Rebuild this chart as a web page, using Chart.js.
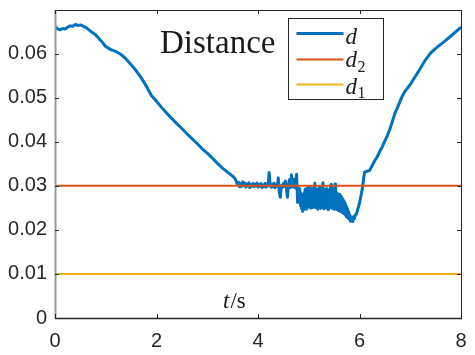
<!DOCTYPE html>
<html><head><meta charset="utf-8">
<script src="https://cdn.jsdelivr.net/npm/chart.js@4"></script>
<style>html,body{margin:0;padding:0;background:#fff;}canvas{display:block;}</style>
</head><body>
<canvas id="c" width="475" height="355"></canvas>
<script>
const tValues = [
  0,0.05,0.1,0.15,0.2,0.25,0.3,0.35,0.4,0.45,0.5,0.6,0.7,0.8,0.9,
  1.0,1.1,1.2,1.3,1.4,1.5,1.6,1.7,1.8,1.9,2.0,2.1,2.2,2.3,2.4,
  2.5,2.6,2.7,2.8,2.9,3.0,3.1,3.2,3.3,3.4,3.5,3.55,
  3.60,3.62,3.64,3.66,3.68,3.70,3.72,3.74,3.76,3.78,
  3.80,3.82,3.84,3.86,3.88,3.90,3.92,3.94,3.96,3.98,
  4.00,4.02,4.04,4.06,4.08,4.10,4.12,4.14,4.16,4.18,
  4.20,4.22,4.24,4.26,4.28,4.30,4.32,4.34,4.36,4.38,
  4.40,4.42,4.44,4.46,4.48,4.50,4.52,4.54,4.56,4.58,
  4.60,4.62,4.64,4.66,4.68,4.70,4.72,4.74,4.76,
  4.78,4.79,4.80,4.81,4.82,4.83,4.84,4.85,4.86,4.87,4.88,4.89,
  4.90,4.91,4.92,4.93,4.94,4.95,4.96,4.97,4.98,4.99,
  5.00,5.01,5.02,5.03,5.04,5.05,5.06,5.07,5.08,5.09,
  5.10,5.11,5.12,5.13,5.14,5.15,5.16,5.17,5.18,5.19,
  5.20,5.21,5.22,5.23,5.24,5.25,5.26,5.27,5.28,5.29,
  5.30,5.31,5.32,5.33,5.34,5.35,5.36,5.37,5.38,5.39,
  5.40,5.41,5.42,5.43,5.44,5.45,5.46,5.47,5.48,5.49,
  5.50,5.51,5.52,5.53,5.54,5.55,5.56,5.57,5.58,5.59,
  5.60,5.61,5.62,5.63,5.64,5.65,5.66,5.67,5.68,5.69,
  5.70,5.71,5.72,5.73,5.74,5.75,5.76,5.77,5.78,5.79,
  5.80,5.81,5.82,5.83,5.84,5.85,5.86,5.87,5.88,5.89,5.90,
  5.92,5.94,5.96,5.98,6.00,6.02,6.04,6.06,6.08,6.10,
  6.15,6.20,6.25,6.30,6.35,6.40,6.45,6.50,6.55,6.60,6.65,6.70,6.75,6.80,6.85,6.90,
  7.0,7.1,7.2,7.3,7.4,7.5,7.6,7.7,7.8,7.9,8.0
];
const dValues = [
  0.0662,0.0656,0.0654,0.0657,0.0656,0.0660,0.0663,0.0662,0.0666,0.0664,0.0665,0.0660,0.0651,0.0643,0.0630,
  0.0616,0.0609,0.0605,0.0598,0.0588,0.0575,0.0561,0.0545,0.0526,0.0505,0.0492,0.0478,0.0465,0.0453,0.0441,
  0.0430,0.0418,0.0407,0.0396,0.0384,0.0374,0.0363,0.0351,0.0340,0.0331,0.0322,0.0316,
  0.0302,0.0308,0.0298,0.0305,0.0299,0.0309,0.0301,0.0306,0.0297,0.0304,
  0.0300,0.0307,0.0296,0.0303,0.0299,0.0305,0.0298,0.0304,0.0300,0.0306,
  0.0297,0.0303,0.0299,0.0305,0.0296,0.0302,0.0298,0.0306,0.0297,0.0304,
  0.0300,0.0330,0.0301,0.0297,0.0304,0.0298,0.0306,0.0296,0.0303,0.0299,
  0.0318,0.0285,0.0274,0.0300,0.0296,0.0305,0.0299,0.0311,0.0295,0.0274,
  0.0300,0.0314,0.0296,0.0325,0.0300,0.0297,0.0315,0.0295,0.0326,
  0.0262,0.0290,0.0268,0.0294,0.0262,0.0285,0.0255,0.0280,0.0248,0.0272,0.0242,0.0266,
  0.0245,0.0284,0.0250,0.0292,0.0256,0.0288,0.0247,0.0295,0.0258,0.0287,
  0.0252,0.0298,0.0262,0.0283,0.0249,0.0290,0.0256,0.0294,0.0251,0.0286,
  0.0260,0.0300,0.0306,0.0264,0.0250,0.0289,0.0255,0.0292,0.0247,0.0284,
  0.0258,0.0296,0.0253,0.0288,0.0249,0.0282,0.0256,0.0301,0.0307,0.0262,
  0.0248,0.0291,0.0257,0.0287,0.0250,0.0294,0.0259,0.0283,0.0246,0.0289,
  0.0255,0.0292,0.0251,0.0298,0.0303,0.0258,0.0249,0.0287,0.0254,0.0290,
  0.0247,0.0297,0.0304,0.0256,0.0250,0.0284,0.0246,0.0282,0.0244,0.0279,
  0.0248,0.0281,0.0242,0.0277,0.0245,0.0274,0.0239,0.0270,0.0241,0.0266,
  0.0236,0.0262,0.0234,0.0257,0.0230,0.0252,0.0229,0.0246,0.0226,0.0240,
  0.0224,0.0233,0.0220,0.0230,0.0221,0.0226,0.0219,0.0228,0.0224,0.0231,0.0226,
  0.0234,0.0236,0.0245,0.0252,0.0261,0.0272,0.0284,0.0297,0.0316,0.0331,
  0.0333,0.0335,0.0346,0.0357,0.0366,0.0378,0.0389,0.0402,0.0414,0.0429,0.0447,0.0465,0.0478,0.0492,0.0505,0.0515,
  0.0530,0.0548,0.0567,0.0586,0.0601,0.0612,0.0621,0.0630,0.0640,0.0650,0.0660
];
const d2Value = 0.03;
const d1Value = 0.01;
const xTicks = [0, 2, 4, 6, 8];
const yTicks = [0, 0.01, 0.02, 0.03, 0.04, 0.05, 0.06];
const xRange = [0, 8];
const yRange = [0, 0.0699];
const titleText = 'Distance';
const seriesNames = [['d',''], ['d','2'], ['d','1']];
const seriesColors = ['#0072BD', '#D95319', '#EDB120'];
const xLabel = ['t', '/s'];

const dPoints = tValues.map((t, i) => ({x: t, y: dValues[i]}));
const flat = v => [{x: xRange[0], y: v}, {x: xRange[1], y: v}];

const AXIS = '#262626';

const framePlugin = {
  id: 'frame',
  afterDatasetsDraw(chart) {
    const {ctx, chartArea: a, scales: {x, y}} = chart;
    ctx.save();
    const L = Math.round(a.left), R = Math.round(a.right), T = Math.round(a.top), B = Math.round(a.bottom);
    ctx.strokeStyle = AXIS; ctx.lineWidth = 1;
    ctx.beginPath();
    ctx.moveTo(L, T + 0.5); ctx.lineTo(R + 0.5, T + 0.5);
    ctx.moveTo(R + 0.5, T); ctx.lineTo(R + 0.5, B + 0.5);
    ctx.stroke();
    ctx.lineWidth = 1.5;
    ctx.beginPath();
    ctx.moveTo(L, B + 0.5); ctx.lineTo(R + 1, B + 0.5);
    ctx.stroke();
    ctx.strokeStyle = '#9a9a9a'; ctx.lineWidth = 2;
    ctx.beginPath();
    ctx.moveTo(L + 0.5, T); ctx.lineTo(L + 0.5, B + 1);
    ctx.stroke();
    ctx.strokeStyle = AXIS; ctx.lineWidth = 1;
    const tl = 4;
    ctx.beginPath();
    xTicks.forEach(v => {
      const px = Math.round(x.getPixelForValue(v)) + 0.5;
      ctx.moveTo(px, B); ctx.lineTo(px, B - tl);
      ctx.moveTo(px, T); ctx.lineTo(px, T + tl);
    });
    yTicks.forEach(v => {
      const py = Math.round(y.getPixelForValue(v)) + 0.5;
      ctx.moveTo(L, py); ctx.lineTo(L + tl, py);
      ctx.moveTo(R, py); ctx.lineTo(R - tl, py);
    });
    ctx.stroke();
    ctx.restore();
  },
  afterDraw(chart) {
    const {ctx, chartArea: a} = chart;
    ctx.save();
    ctx.fillStyle = '#1a1a1a';
    ctx.font = '33px "Liberation Serif"';
    ctx.textBaseline = 'alphabetic';
    ctx.textAlign = 'left';
    ctx.fillText(titleText, a.left + 105, a.top + 43);
    const bx = a.left + 233.5, by = a.top + 8.5, bw = 95, bh = 81;
    ctx.fillStyle = '#fff';
    ctx.fillRect(bx, by, bw, bh);
    ctx.strokeStyle = AXIS; ctx.lineWidth = 1;
    ctx.strokeRect(bx, by, bw, bh);
    const rows = [
      {ly: 15, base: 25, sub: 0, w: 3},
      {ly: 41, base: 48, sub: 53, w: 2},
      {ly: 66, base: 75, sub: 79, w: 2}
    ];
    rows.forEach((r, i) => {
      ctx.strokeStyle = seriesColors[i]; ctx.lineWidth = r.w;
      ctx.beginPath();
      ctx.moveTo(bx + 8, by + r.ly); ctx.lineTo(bx + 55, by + r.ly);
      ctx.stroke();
      ctx.fillStyle = '#1a1a1a';
      ctx.font = 'italic 23px "Liberation Serif"';
      ctx.fillText(seriesNames[i][0], bx + 57, by + r.base);
      if (seriesNames[i][1]) {
        ctx.font = '16px "Liberation Serif"';
        ctx.fillText(seriesNames[i][1], bx + 69, by + r.sub);
      }
    });
    ctx.fillStyle = '#1a1a1a';
    ctx.font = 'italic 23px "Liberation Serif"';
    const lx = a.left + 168, ly = a.bottom - 10;
    ctx.fillText(xLabel[0], lx, ly);
    const tw = ctx.measureText(xLabel[0]).width;
    ctx.font = '23px "Liberation Serif"';
    ctx.fillText(xLabel[1], lx + tw + 1, ly);
    ctx.restore();
  }
};

const zeroPad = s => { s.paddingTop = 0; s.paddingBottom = 0; s.paddingLeft = 0; s.paddingRight = 0; };

new Chart(document.getElementById('c'), {
  type: 'line',
  data: {
    datasets: [
      {label: 'd', data: dPoints, borderColor: seriesColors[0], borderWidth: 3, order: 2},
      {label: 'd2', data: flat(d2Value), borderColor: seriesColors[1], borderWidth: 2, order: 1},
      {label: 'd1', data: flat(d1Value), borderColor: seriesColors[2], borderWidth: 2, order: 1}
    ]
  },
  options: {
    responsive: false,
    animation: false,
    events: [],
    elements: {point: {radius: 0}, line: {tension: 0, borderJoinStyle: 'round', borderCapStyle: 'butt'}},
    layout: {padding: {top: 10, right: 14, left: 0, bottom: 0}},
    plugins: {legend: {display: false}, tooltip: {enabled: false}, title: {display: false}},
    scales: {
      x: {
        type: 'linear', min: xRange[0], max: xRange[1],
        afterBuildTicks: s => { s.ticks = xTicks.map(v => ({value: v})); },
        afterFit: s => { s.height = 37; zeroPad(s); },
        grid: {display: false, drawTicks: false},
        border: {display: false},
        ticks: {color: AXIS, padding: 11, maxRotation: 0, font: {family: '"Liberation Sans"', size: 20}, callback: v => String(v)}
      },
      y: {
        type: 'linear', min: yRange[0], max: yRange[1],
        afterBuildTicks: s => { s.ticks = yTicks.map(v => ({value: v})); },
        afterFit: s => { s.width = 55; zeroPad(s); },
        grid: {display: false, drawTicks: false},
        border: {display: false},
        ticks: {color: AXIS, padding: 8, font: {family: '"Liberation Sans"', size: 20}, callback: v => v === 0 ? '0' : v.toFixed(2)}
      }
    }
  },
  plugins: [framePlugin]
});
</script>
</body></html>
